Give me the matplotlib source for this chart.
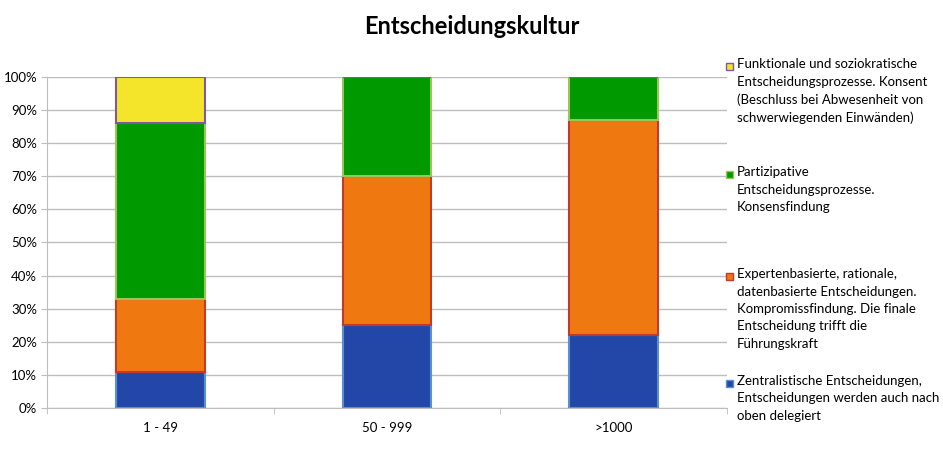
import matplotlib.pyplot as plt
from matplotlib.patches import Rectangle

plt.rcParams['font.family'] = ['Lato', 'DejaVu Sans']

# Daten
categories = ["1 - 49", "50 - 999", ">1000"]
zentral = [11, 25, 22]
experten = [22, 45, 65]
partizipativ = [53, 30, 13]
funktional = [14, 0, 0]

series = [
    (zentral, "#2347a8", "#5b8fd0",
     "Zentralistische Entscheidungen,\nEntscheidungen werden auch nach\noben delegiert"),
    (experten, "#f07810", "#c43a2a",
     "Expertenbasierte, rationale,\ndatenbasierte Entscheidungen.\nKompromissfindung. Die finale\nEntscheidung trifft die\nFührungskraft"),
    (partizipativ, "#009900", "#9bc45a",
     "Partizipative\nEntscheidungsprozesse.\nKonsensfindung"),
    (funktional, "#f5e52a", "#7a5aa8",
     "Funktionale und soziokratische\nEntscheidungsprozesse. Konsent\n(Beschluss bei Abwesenheit von\nschwerwiegenden Einwänden)"),
]

fig = plt.figure(figsize=(9.43, 4.57), dpi=100)
ax = fig.add_axes([47 / 943, 1 - 408 / 457, 680 / 943, 331 / 457])

x = list(range(len(categories)))
bottom = [0, 0, 0]
for vals, fc, ec, lab in series:
    ax.bar(x, vals, width=0.39, bottom=bottom, color=fc, edgecolor=ec,
           linewidth=1.5, zorder=3)
    bottom = [b + v for b, v in zip(bottom, vals)]

ax.set_xlim(-0.5, 2.5)
ax.set_ylim(0, 100)
ax.set_yticks(range(0, 101, 10))
ax.set_yticklabels([f"{v}%" for v in range(0, 101, 10)], fontsize=9.5)
ax.yaxis.grid(True, color="#bdbdbd", linewidth=1, zorder=0)
ax.set_xticks(x)
ax.set_xticklabels(categories, fontsize=9.5)
ax.set_xticks([-0.5, 0.5, 1.5, 2.5], minor=True)
ax.tick_params(axis="x", which="major", length=0, pad=10)
ax.tick_params(axis="x", which="minor", length=4, color="#bdbdbd")
ax.tick_params(axis="y", length=4, color="#bdbdbd", pad=3)
for s in ["top", "right"]:
    ax.spines[s].set_visible(False)
for s in ["left", "bottom"]:
    ax.spines[s].set_color("#bdbdbd")

fig.text(472 / 943, 1 - 26 / 457, "Entscheidungskultur", ha="center",
         va="center", fontsize=17, fontweight="bold")

# Legende
legend_tops = [375, 268, 166, 58]
for (vals, fc, ec, lab), ytop in zip(series, legend_tops):
    fig.patches.append(Rectangle((726 / 943, 1 - (ytop + 12) / 457),
                                 7 / 943, 7 / 457, transform=fig.transFigure,
                                 facecolor=fc, edgecolor=ec, linewidth=1))
    fig.text(737 / 943, 1 - ytop / 457, lab, ha="left", va="top",
             fontsize=9.5, linespacing=1.55)

fig.savefig("out.png", dpi=100)
